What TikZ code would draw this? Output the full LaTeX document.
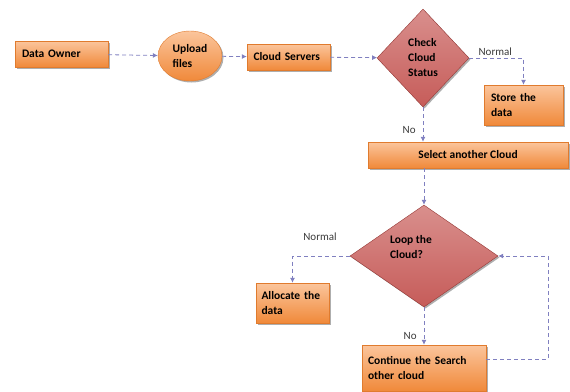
\documentclass[tikz,border=0pt]{standalone}
\usepackage{fontspec}
\setmainfont{Carlito}
\usetikzlibrary{positioning,arrows.meta,shapes.geometric,shadows}
\definecolor{boxtop}{HTML}{FBC59C}
\definecolor{boxbot}{HTML}{F0893A}
\definecolor{boxedge}{HTML}{E07B2E}
\definecolor{dmdtop}{HTML}{D98F8D}
\definecolor{dmdmid}{HTML}{BC4744}
\definecolor{dmdbot}{HTML}{C65C59}
\definecolor{flowcol}{HTML}{8080C0}
\definecolor{lblcol}{HTML}{3A3A3A}

\begin{document}
\begin{tikzpicture}[
  x=1pt,y=-1pt,
  box/.style={rectangle,draw=boxedge,line width=.4pt,top color=boxtop,bottom color=boxbot,
              align=left,inner sep=0pt,font=\fontsize{11.5}{15}\selectfont\bfseries,
              drop shadow={shadow xshift=1.5pt,shadow yshift=-1.5pt,fill=black!70,opacity=.45}},
  oval/.style={ellipse,draw=boxedge,line width=.4pt,top color=boxtop,bottom color=boxbot,
               align=left,inner sep=0pt,font=\fontsize{11.5}{15}\selectfont\bfseries,
               drop shadow={shadow xshift=1.5pt,shadow yshift=-1.5pt,fill=black!70,opacity=.45}},
  dmd/.style={diamond,draw=dmdmid!80!black,line width=.4pt,top color=dmdtop,middle color=dmdmid,
              bottom color=dmdbot,align=left,inner sep=0pt,font=\fontsize{11.5}{15}\selectfont\bfseries,
              drop shadow={shadow xshift=1.5pt,shadow yshift=-1.5pt,fill=black!70,opacity=.45}},
  flow/.style={draw=flowcol,line width=.8pt,dash pattern=on 4pt off 3pt,
               -{Latex[length=5pt,width=5pt]}},
  lbl/.style={font=\fontsize{11}{13}\selectfont,text=lblcol,inner sep=1pt}
]
\useasboundingbox (0,0) rectangle (570,391);

% top row
\node[box,minimum width=93pt,minimum height=26pt,text width=79pt] (owner) at (61.5,54) {Data Owner};
\node[oval,minimum width=64pt,minimum height=50pt] (upload) at (190,56) {Upload\\files};
\node[box,minimum width=83pt,minimum height=26pt,text width=70pt] (servers) at (288.5,57) {Cloud Servers};
\node[dmd,minimum width=92pt,minimum height=98pt] (check) at (423,58) {Check\\Cloud\\Status};
\node[box,minimum width=79pt,minimum height=40pt,text width=65pt] (store) at (523.5,105) {Store the\\data};

% middle
\node[box,minimum width=200pt,minimum height=26pt,align=center] (select) at (468,155) {Select another Cloud};
\node[dmd,minimum width=148pt,minimum height=102pt] (loop) at (424,256)
  {\raisebox{5pt}[0pt][0pt]{\hspace*{-26pt}\begin{tabular}{@{}l@{}}Loop the\\Cloud?\end{tabular}}};

% bottom
\node[box,minimum width=73pt,minimum height=40pt,text width=62pt] (alloc) at (292.5,303) {Allocate the\\data};
\node[box,minimum width=124pt,minimum height=46pt,text width=112pt] (cont) at (424,368) {Continue the Search\\other cloud};

\draw[flow] (owner) -- (upload);
\draw[flow] (upload) -- (servers);
\draw[flow] (servers) -- (check);
\draw[flow] (check.east) -| node[lbl,pos=.24,above=1pt]{Normal} (store.north);
\draw[flow] (check.south) -- node[lbl,left=6pt,pos=.66]{No} (check.south |- select.north);
\draw[flow] (loop.north |- select.south) -- (loop.north);
\draw[flow] (loop.west) -| node[lbl,pos=.26,above=14pt]{Normal} (alloc.north);
\draw[flow] (loop.south) -- node[lbl,left=6pt,pos=.76]{No} (loop.south |- cont.north);
\draw[flow] ([yshift=9pt]cont.east) -- ++(62,0) |- (loop.east);
\end{tikzpicture}
\end{document}
